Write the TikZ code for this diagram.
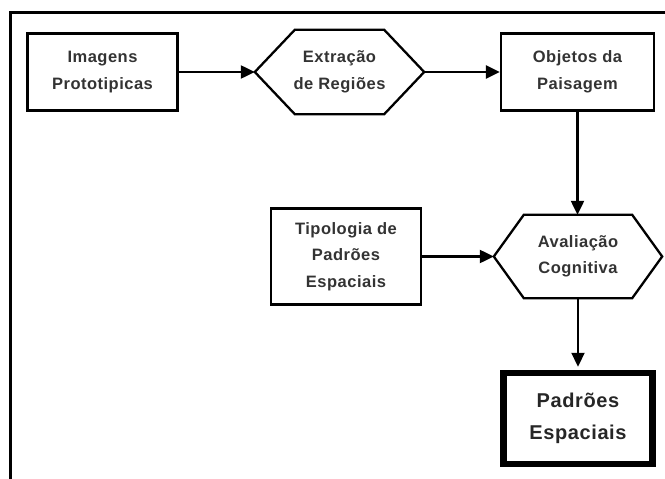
\documentclass[tikz,border=0pt]{standalone}
\usepackage{fontspec}
\setmainfont{Liberation Sans}
\newfontfamily\boxfont[LetterSpace=3,BoldFont={Liberation Sans Bold}]{Liberation Sans}
\newfontfamily\bigfont[LetterSpace=3,BoldFont={Liberation Sans Bold}]{Liberation Sans}
\usetikzlibrary{arrows.meta,calc}
\begin{document}
\begin{tikzpicture}[x=1pt,y=-1pt,
  txt/.style={font=\boxfont\bfseries\fontsize{16.5}{26.5}\selectfont, text=black!80, align=center},
  procbox/.style={txt, draw=black, line width=2.3pt, inner sep=0pt},
  hexnode/.style={txt, inner sep=0pt, minimum width=#1},
  finalbox/.style={draw=black, line width=6.5pt, inner sep=0pt, align=center,
    font=\bigfont\bfseries\fontsize{20}{32}\selectfont, text=black!85},
  hexline/.style={draw=black, line width=2.3pt, line join=miter},
  conn/.style={draw=black, line width=2.3pt, -{Triangle[length=14pt,width=13pt]}},
  frameline/.style={draw=black, line width=3pt}]
\useasboundingbox (0,0) rectangle (665,479);
% partial outer frame
\draw[frameline] (665,12) -- (10.5,12) -- (10.5,479);

% nodes
\node[procbox, minimum width=150pt, minimum height=77pt] (img) at (102.5,72) {Imagens\\Prototipicas};
\node[hexnode=169pt, minimum height=84pt] (ext) at (339.5,72) {Extração\\de Regiões};
\node[procbox, minimum width=153pt, minimum height=77pt] (obj) at (577.5,72) {Objetos da\\Paisagem};
\node[procbox, minimum width=150pt, minimum height=96pt] (tip) at (346,256.5) {Tipologia de\\Padrões\\Espaciais};
\node[hexnode=168pt, minimum height=83pt] (ava) at (578,256.5) {Avaliação\\Cognitiva};
\node[finalbox, minimum width=149pt, minimum height=91pt] (pad) at (578,418.5) {Padrões\\Espaciais};

% hexagon outlines
\draw[hexline] (ext.west) -- ([xshift=40pt]ext.north west) -- ([xshift=-40pt]ext.north east)
  -- (ext.east) -- ([xshift=-40pt]ext.south east) -- ([xshift=40pt]ext.south west) -- cycle;
\draw[hexline] (ava.west) -- ([xshift=30pt]ava.north west) -- ([xshift=-30pt]ava.north east)
  -- (ava.east) -- ([xshift=-30pt]ava.south east) -- ([xshift=30pt]ava.south west) -- cycle;

% connectors
\draw[conn] (img.east) -- (ext.west);
\draw[conn] (ext.east) -- (obj.west);
\draw[conn] (obj.south) -- (obj.south |- ava.north);
\draw[conn] (tip.east) -- (tip.east -| ava.west);
\draw[conn] (ava.south) -- ([yshift=3pt]pad.north);
\end{tikzpicture}
\end{document}
